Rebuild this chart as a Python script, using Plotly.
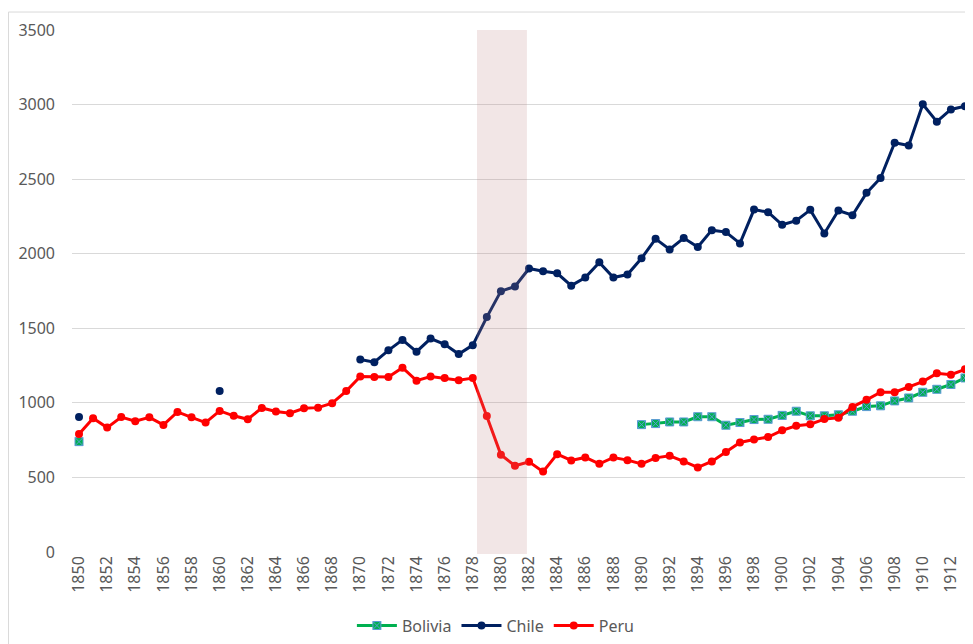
import plotly.graph_objects as go

years = list(range(1850, 1914))

# Chile: values for 1850, 1860 and 1870-1913, gaps otherwise
chile = [905] + [None] * 9 + [1079] + [None] * 9 + [
    1291, 1273, 1352, 1422, 1343, 1431, 1393, 1327, 1387, 1575,
    1749, 1780, 1901, 1882, 1869, 1786, 1840, 1942, 1840, 1860,
    1969, 2100, 2029, 2105, 2045, 2158, 2145, 2069, 2296, 2278,
    2194, 2221, 2294, 2136, 2290, 2258, 2408, 2508, 2744, 2726,
    3002, 2885, 2967, 2989,
]

peru = [
    792, 897, 834, 905, 877, 903, 852, 939, 903, 868,
    946, 913, 890, 966, 942, 931, 964, 968, 998, 1079,
    1177, 1173, 1173, 1236, 1149, 1177, 1166, 1152, 1166, 912,
    652, 578, 605, 539, 656, 614, 634, 591, 634, 616,
    591, 631, 645, 607, 567, 607, 671, 734, 754, 771,
    816, 846, 857, 891, 900, 973, 1020, 1071, 1071, 1107,
    1143, 1198, 1189, 1225,
]

bolivia = [740] + [None] * 39 + [
    854, 861, 872, 872, 907, 907, 850, 868, 888, 890,
    916, 944, 913, 913, 920, 944, 975, 980, 1013, 1033,
    1071, 1091, 1123, 1167,
]

war_start, war_end = 1878.3, 1881.85

font_family = "Noto Sans"
grey = "#595959"

fig = go.Figure()

fig.add_trace(go.Scatter(
    x=years, y=bolivia, name="Bolivia", mode="lines+markers",
    line=dict(color="#00b050", width=3),
    marker=dict(symbol="square-x", size=8, color="#00b050",
                line=dict(color="#5b9bd5", width=1)),
))
fig.add_trace(go.Scatter(
    x=years, y=chile, name="Chile", mode="lines+markers",
    line=dict(color="#002060", width=3),
    marker=dict(symbol="circle", size=8, color="#002060"),
))
fig.add_trace(go.Scatter(
    x=years, y=peru, name="Peru", mode="lines+markers",
    line=dict(color="#ff0000", width=3),
    marker=dict(symbol="circle", size=8, color="#ff0000"),
))

# shaded period drawn over the lines
fig.add_shape(
    type="rect", xref="x", yref="paper",
    x0=war_start, x1=war_end, y0=-0.004, y1=1,
    fillcolor="rgba(190,130,130,0.2)", line=dict(width=0), layer="above",
)
# outer chart frame
fig.add_shape(
    type="rect", xref="paper", yref="paper",
    x0=-0.0706, x1=1.05, y0=-0.3, y1=1.0344,
    line=dict(color="#d9d9d9", width=1), fillcolor="rgba(0,0,0,0)",
)

fig.update_layout(
    width=965, height=636,
    margin=dict(l=64, r=1, t=22, b=82),
    paper_bgcolor="white", plot_bgcolor="white",
    font=dict(family=font_family, size=16, color=grey),
    showlegend=True,
    legend=dict(orientation="h", x=0.471, xanchor="center",
                y=-0.141, yanchor="middle",
                font=dict(size=16, color=grey), itemwidth=40),
)

fig.update_xaxes(
    range=[1849.5, 1913.5], tickmode="linear", tick0=1850, dtick=2,
    tickangle=-90, showgrid=False, zeroline=False, showline=False,
    ticks="", tickfont=dict(size=16, color=grey),
)
fig.update_yaxes(
    range=[0, 3500], dtick=500, showgrid=True, gridcolor="#d9d9d9",
    gridwidth=1, zeroline=False, showline=False, ticks="",
    tickfont=dict(size=16, color=grey), ticklabelstandoff=16,
)

fig.write_html("out.html")
